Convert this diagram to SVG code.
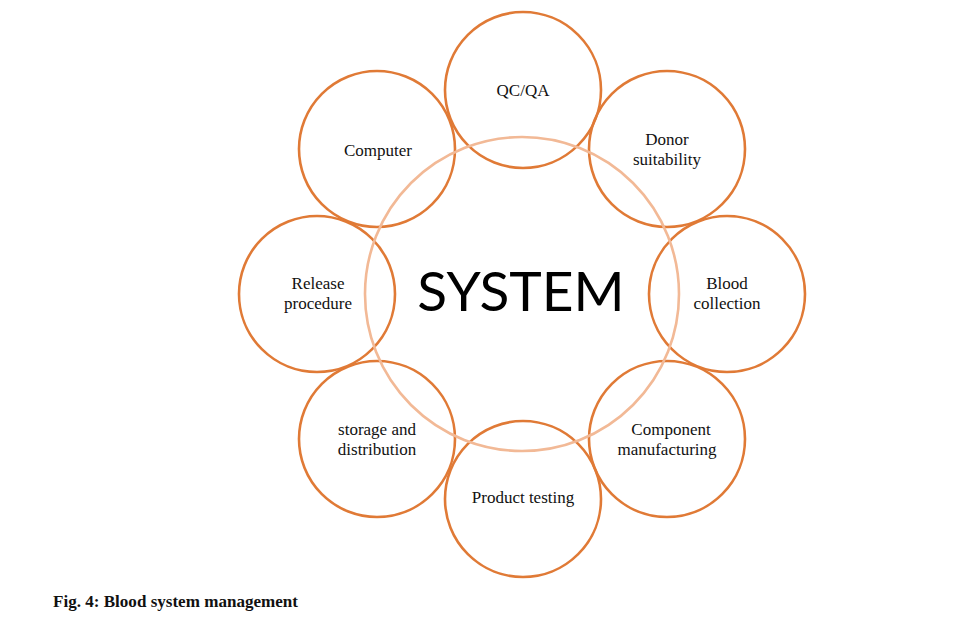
<svg xmlns="http://www.w3.org/2000/svg" width="964" height="621" viewBox="0 0 964 621">
<style>
.node circle{fill:none;stroke:#E07A36;stroke-width:2.6}
.hub{fill:none;stroke:#F2B996;stroke-width:2.6}
.lbl{font-family:"Liberation Serif","Times New Roman",serif;font-size:17px;fill:#111;text-anchor:middle}
.sys{font-family:Lato,"Open Sans",sans-serif;font-size:55px;fill:#000;text-anchor:middle}
.cap{font-family:"Liberation Serif","Times New Roman",serif;font-size:16.5px;font-weight:bold;fill:#111}
</style>
<rect width="964" height="621" fill="#fff"/>
<g id="nodes">
<g id="qcqa" class="node"><circle cx="523" cy="90" r="78"/><text class="lbl" x="523" y="96">QC/QA</text></g>
<g id="donor" class="node"><circle cx="667" cy="149" r="78"/><text class="lbl" x="667" y="145">Donor<tspan x="667" dy="19.5">suitability</tspan></text></g>
<g id="blood" class="node"><circle cx="727" cy="294" r="78"/><text class="lbl" x="727" y="289">Blood<tspan x="727" dy="19.5">collection</tspan></text></g>
<g id="component" class="node"><circle cx="667" cy="439" r="78"/><text class="lbl" x="671" y="435">Component<tspan x="667" dy="19.5">manufacturing</tspan></text></g>
<g id="testing" class="node"><circle cx="523" cy="499" r="78"/><text class="lbl" x="523" y="503">Product testing</text></g>
<g id="storage" class="node"><circle cx="377" cy="439" r="78"/><text class="lbl" x="377" y="435">storage and<tspan x="377" dy="19.5">distribution</tspan></text></g>
<g id="release" class="node"><circle cx="317" cy="294" r="78"/><text class="lbl" x="318" y="289">Release<tspan x="318" dy="19.5">procedure</tspan></text></g>
<g id="computer" class="node"><circle cx="377" cy="149" r="78"/><text class="lbl" x="378" y="156">Computer</text></g>
<g id="system"><circle class="hub" cx="522" cy="294" r="157"/><text class="sys" x="521" y="311">SYSTEM</text></g>
</g>
<g id="connectors"></g>
<text class="cap" x="53" y="607" textLength="245" lengthAdjust="spacingAndGlyphs">Fig. 4: Blood system management</text>
</svg>
